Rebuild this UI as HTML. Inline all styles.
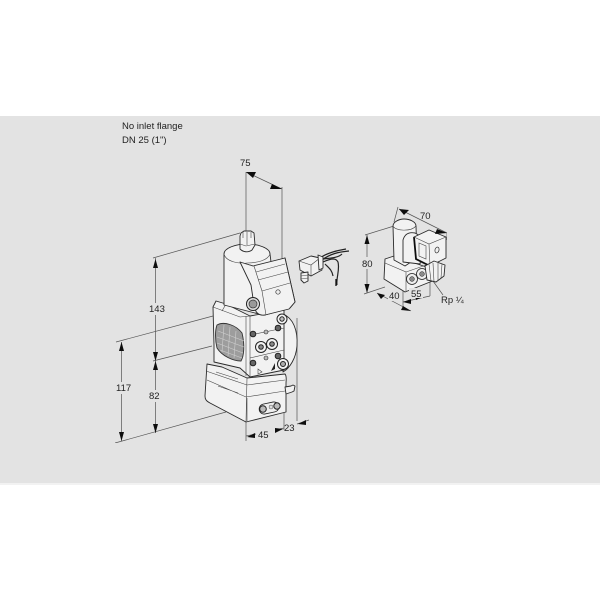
<!DOCTYPE html>
<html><head><meta charset="utf-8"><style>
html,body{margin:0;padding:0;background:#fff}
svg{display:block}
text{font-family:"Liberation Sans",sans-serif;font-size:9.500px;fill:#222}
.d{stroke:#555;stroke-width:.7;fill:none}
.o{stroke:#2a2a2a;stroke-width:.9;fill:#f2f2f2;stroke-linejoin:round}
.t{stroke:#444;stroke-width:.6;fill:none}
.a{fill:#111;stroke:none}
.b{fill:#e3e3e3;stroke:none}
</style></head><body>
<svg width="600" height="600" viewBox="0 0 600 600" xmlns="http://www.w3.org/2000/svg">
<defs><filter id="s" x="0" y="0" width="1" height="1"><feGaussianBlur stdDeviation=".3"/></filter></defs>
<rect width="600" height="600" fill="#fff"/>
<rect y="116" width="600" height="367" fill="#e3e3e3"/>
<rect y="483" width="600" height="2" fill="#f2f2f2"/>
<text x="122" y="129">No inlet flange</text>
<text x="122" y="143">DN 25 (1")</text>
<g filter="url(#s)">

<!-- main dimension lines -->
<g class="d">
<path d="M246 172V233M282 187V260M246 172L282 189"/>
<path d="M153 258L240 233M155.500 258V361M153 361L212 346M155.500 361V433"/>
<path d="M116 342L213 316M121.500 342V441M115 443L226 412"/>
<path d="M246 421V441M284 413V430M297 318V421M246 436L256 434M275 430L284 428M297 424L309 420"/>
</g>

<!-- lower box -->
<path class="o" d="M207 364L222 367L247 378L285 374C287 376 286 380 286 384L286 412L246 422L210 403C206 401 205 399 205 396Z"/>
<g class="t"><path d="M206 371L247 385L285 380M247 378L246 422M207 380L246 397L285 391M216 372L238 379M218 386L238 393M247 398V421"/></g>
<rect x="259" y="403" width="20" height="10" rx="5" transform="rotate(-12 269 408)" fill="#eee" stroke="#222" stroke-width=".8"/>
<circle cx="263" cy="409" r="3.300" fill="#bbb" stroke="#222" stroke-width="1"/>
<circle cx="277" cy="406" r="3.200" fill="#bbb" stroke="#222" stroke-width="1"/>
<circle cx="271" cy="407" r="2" fill="#ddd" stroke="#555" stroke-width=".5"/>
<path class="o" d="M285 387L291 386L293 385L295 386L294 391L292 392L286 394Z"/>

<!-- right drum -->
<path class="o" d="M283 314C293 318 298 330 297 346C296 358 290 368 283 372Z"/>

<!-- middle body -->
<path class="o" d="M216 301L226 304L250 316L284 310L284 350L284 370L250 377L240 368L214 362L214 345L213 307Z"/>
<path class="t" d="M213 307L240 317L250 316M246 316V376M250 316V377M250 335L284 328M250 358L284 350M226 304L222 311"/>
<!-- mesh window -->
<path d="M217 325C224 321 236 325 242 333C245 345 244 356 241 361C233 361 222 356 217 348C215 340 215 330 217 325Z" fill="#9d9d9d" stroke="#333" stroke-width=".9"/>
<path d="M218 331L244 341M217 337L244 347M217 343L243 353M220 350L242 358M224 325L222 352M230 327L228 356M236 331L234 358" stroke="#d0d0d0" stroke-width=".6" fill="none"/>
<!-- valve bolts -->
<g stroke="#222" fill="#ddd">
<circle cx="253" cy="334" r="2.800" fill="#666"/>
<circle cx="266" cy="332" r="2" fill="#bbb" stroke-width=".6"/>
<circle cx="278" cy="328" r="2.800" fill="#666"/>
<circle cx="253" cy="363" r="2.800" fill="#666"/>
<circle cx="266" cy="358" r="2" fill="#bbb" stroke-width=".6"/>
<circle cx="278" cy="356" r="2.800" fill="#666"/>
<circle cx="261" cy="347" r="5.500" fill="#f2f2f2"/>
<circle cx="261" cy="347" r="2.300" fill="#888"/>
<circle cx="272" cy="344" r="5.500" fill="#f2f2f2"/>
<circle cx="272" cy="344" r="2.300" fill="#888"/>
<circle cx="283" cy="364" r="5.500" fill="#f4f4f4"/>
<circle cx="283" cy="364" r="2.500" fill="#aaa"/>
<circle cx="282" cy="319" r="5" fill="#f4f4f4"/>
<circle cx="282" cy="319" r="2.200" fill="#bbb"/>
</g>
<path d="M271 371L275 363L275 369Z" fill="#222"/>
<path class="t" d="M258 369L262 372L258 374Z"/>

<!-- actuator -->
<path class="o" d="M224 254C224 248 236 244 247 244C258 244 270 248 270 254L271 262L285 258L295 302L290 308L265 315L255 313L224 305Z"/>
<path class="t" d="M224 254C226 262 240 264 247 263C258 263 268 260 270 254"/>
<path class="o" d="M240 262L253 266L285 258L295 302L289 309L265 315C258 316 255 312 254 305L251 285Z"/>
<path class="t" d="M256 272L285 264M258 280L288 272M262 291L290 283M240 262L254 266M254 266L262 291L266 315"/>
<circle cx="278" cy="292" r="2.200" fill="#eee" stroke="#333" stroke-width=".7"/>
<circle cx="253" cy="304" r="6.500" fill="#ddd" stroke="#222" stroke-width="1"/>
<circle cx="253" cy="304" r="4" fill="#999" stroke="#333" stroke-width=".7"/>
<path class="o" d="M240 236L241 233L244 231H251L254 233L255 245L252 250C248 253 243 252 240 249Z"/>
<path class="t" d="M240 244L246 246L255 244M247 232V245M243 232V238M251 232V238"/>

<!-- connector plug and cable -->
<g>
<path d="M322 260C330 254 338 252 349 251M323 262C332 258 336 258 338 262C340 270 336 278 337 285M320 258C328 252 340 250 346 249M325 264C329 268 332 270 333 276M323 259C330 258 338 258 342 254" stroke="#222" stroke-width="1.200" fill="none"/>
<path class="o" d="M299 261L311 256L320 258L322 270L311 276L300 270Z"/>
<path class="t" d="M299 261L311 265L320 258M311 265L311 276"/>
<path class="o" d="M318 255L323 257L323 268L319 270Z"/>
<path class="o" d="M301 273L308 272L308 281L304 283L301 280Z"/>
<path d="M301 276L308 275M301 279L308 278" stroke="#444" stroke-width=".6"/>
<path d="M336 279V286" stroke="#111" stroke-width="1.300"/>
</g>

<!-- arrows main -->
<g class="a">
<path d="M246 172L256 172L253 178Z"/>
<path d="M282 189L272 184L270 189Z"/>
<path d="M155.500 259L153 268H158Z"/>
<path d="M155.500 361L153 352H158Z"/>
<path d="M155.500 361L153 370H158Z"/>
<path d="M155.500 433L153 424H158Z"/>
<path d="M121.500 342L119 351H124Z"/>
<path d="M121.500 441L119 432H124Z"/>
<path d="M247 437L255 433V438Z"/>
<path d="M283 429L275 428V433Z"/>
<path d="M298 424L306 420V425Z"/>
</g>

<!-- right assembly dimensions -->
<g class="d">
<path d="M365 235L394 226M367 235V293M364 294L385 287M399 209L447 233M398 207L394 222M447 233V240"/>
<path d="M377 293L411 311M403 283V307M403 302L430 296M430 280V296M433 281L443 295"/>
</g>
<!-- base -->
<path class="o" d="M385 259L394 256L435 270L435 280L405 292L384 279Z"/>
<path class="t" d="M385 263L406 272L406 292M406 272L435 262"/>
<circle cx="412" cy="279" r="5.500" fill="#eee" stroke="#222" stroke-width=".8"/>
<circle cx="412" cy="279" r="2.400" fill="#888" stroke="#222" stroke-width=".5"/>
<circle cx="422" cy="274" r="5.500" fill="#eee" stroke="#222" stroke-width=".8"/>
<circle cx="422" cy="274" r="2.400" fill="#888" stroke="#222" stroke-width=".5"/>
<!-- cylinder -->
<path class="o" d="M393 226C393 222 399 219 404 219C410 219 416 222 416 226L417 258L405 266L394 260Z"/>
<path class="t" d="M393 226C395 231 411 232 416 226"/>
<path class="o" d="M403 240C405 233 410 232 415 233L424 238L420 264L403 262Z"/>
<!-- coil -->
<path class="o" d="M414 237L429 230L446 237L446 258L430 266L416 259Z"/>
<path d="M414 237L416 259L430 266" stroke="#111" stroke-width="1.800" fill="none"/>
<path class="t" d="M414 237L429 244L446 237M429 244L430 266M419 243L426 246V259L419 256Z"/>
<ellipse cx="437" cy="250" rx="2" ry="3" transform="rotate(15 437 250)" fill="none" stroke="#333" stroke-width=".7"/>
<!-- fitting -->
<path class="o" d="M425 266L434 261L445 265L444 276L436 282L427 280Z"/>
<path class="t" d="M429 264L431 281M433 263L434 282M438 263L438 281M442 264L441 278"/>
<g class="a">
<path d="M399 209L409 210L404 215Z"/>
<path d="M447 233L437 229L435 234Z"/>
<path d="M367 235L364.500 244H369.500Z"/>
<path d="M367 293L364.500 284H369.500Z"/>
<path d="M377 293L385 295L381 299Z"/>
<path d="M411 311L403 306L401 310Z"/>
<path d="M403 302L411 299V304Z"/>
<path d="M423 297L415 295L416 300Z"/>
</g>
</g>

<!-- labels with gaps in dimension lines -->
<rect class="b" x="149" y="303" width="15" height="12"/>
<rect class="b" x="115" y="382" width="16" height="12"/>
<rect class="b" x="148" y="390" width="13" height="12"/>
<rect class="b" x="360" y="257" width="14" height="12"/>
<rect class="b" x="388" y="290" width="13" height="11"/>
<rect class="b" x="409" y="288" width="14" height="10"/>
<text x="240" y="166">75</text>
<text x="149" y="312">143</text>
<text x="116" y="391">117</text>
<text x="149" y="399">82</text>
<text x="258" y="438">45</text>
<text x="284" y="431">23</text>
<text x="420" y="219">70</text>
<text x="362" y="267">80</text>
<text x="389" y="299">40</text>
<text x="411" y="297">55</text>
<text x="441" y="303">Rp ¼</text>
</svg>
</body></html>
